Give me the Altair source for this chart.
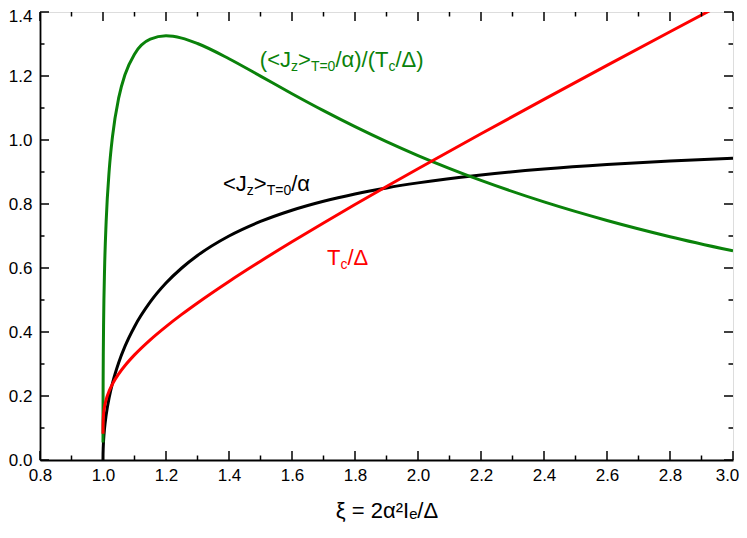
import altair as alt
import pandas as pd

# ---------------- data ----------------
xi = [1.00001, 1.0001, 1.0005, 1.001, 1.002, 1.005, 1.01, 1.02, 1.03, 1.05,
      1.07, 1.1, 1.15, 1.2, 1.25, 1.3, 1.4, 1.5, 1.6, 1.7, 1.8, 1.9, 2.0,
      2.2, 2.4, 2.6, 2.8, 3.0]

jz_x = [1.0, 1.00001, 1.0001, 1.0005, 1.001, 1.002, 1.005, 1.01, 1.02, 1.03, 1.05,
        1.07, 1.1, 1.15, 1.2, 1.25, 1.3, 1.4, 1.5, 1.6, 1.7, 1.8, 1.9, 2.0,
        2.2, 2.4, 2.6, 2.8, 3.0]
jz = [0.0, 0.0045, 0.0141, 0.0316, 0.0447, 0.0632, 0.0996, 0.1404, 0.1971, 0.2396,
      0.3049, 0.3558, 0.4166, 0.4938, 0.5528, 0.6000, 0.6390, 0.6999, 0.7454,
      0.7806, 0.8087, 0.8315, 0.8503, 0.8660, 0.8907, 0.9091, 0.9231, 0.9341,
      0.9428]

tc = [0.0819, 0.1010, 0.1206, 0.1316, 0.1447, 0.1668, 0.1886, 0.2167, 0.2373,
      0.2693, 0.2953, 0.3285, 0.3756, 0.4170, 0.4551, 0.4909, 0.5581, 0.6213,
      0.6820, 0.7408, 0.7982, 0.8546, 0.9102, 1.0195, 1.1270, 1.2332, 1.3383,
      1.4427]

ratio = [0.0546, 0.1400, 0.2622, 0.3397, 0.4363, 0.5972, 0.7444, 0.9094, 1.0098,
         1.1323, 1.2049, 1.2683, 1.3149, 1.3255, 1.3183, 1.3015, 1.2540, 1.1996,
         1.1446, 1.0917, 1.0417, 0.9949, 0.9514, 0.8737, 0.8066, 0.7486, 0.6979,
         0.6535]

x_major = [0.8, 1.0, 1.2, 1.4, 1.6, 1.8, 2.0, 2.2, 2.4, 2.6, 2.8, 3.0]
x_minor = [0.9, 1.1, 1.3, 1.5, 1.7, 1.9, 2.1, 2.3, 2.5, 2.7, 2.9]
y_major = [0.0, 0.2, 0.4, 0.6, 0.8, 1.0, 1.2, 1.4]
y_minor = [0.1, 0.3, 0.5, 0.7, 0.9, 1.1, 1.3]

x_title = "ξ = 2α²Iₑ/Δ"

# label pieces: (text, is_subscript)
green_label = [("(<J", False), ("z", True), (">", False), ("T=0", True),
               ("/α)/(T", False), ("c", True), ("/Δ)", False)]
black_label = [("<J", False), ("z", True), (">", False), ("T=0", True), ("/α", False)]
red_label = [("T", False), ("c", True), ("/Δ", False)]
green_anchor = (1.498, 1.229)
black_anchor = (1.381, 0.841)
red_anchor = (1.711, 0.609)

# ---------------- styling ----------------
W, H = 693, 448
FONT = "Liberation Sans"
GREEN = "#0a820a"
RED = "#ff0000"
BLACK = "#000000"
MAIN, SUB = 22, 14
MAJ, MIN = 9, 4.5

XS = alt.Scale(domain=[0.8, 3.0], nice=False, zero=False)
YS = alt.Scale(domain=[0.0, 1.4], nice=False, zero=False)
XAX = alt.Axis(values=x_major, format=".1f", ticks=False, grid=False,
               labelFontSize=17, labelFont=FONT, labelColor="black",
               labelPadding=7, labelFlush=False, labelOverlap=False,
               labelOffset={"condition": {"test": "datum.value > 2.95", "value": -6},
                            "value": 0},
               domainColor="black", domainWidth=1.8,
               title=x_title, titleFont=FONT, titleFontSize=22,
               titleFontWeight="normal", titleColor="black", titlePadding=17)
YAX = alt.Axis(values=y_major, format=".1f", ticks=False, grid=False,
               labelFontSize=17, labelFont=FONT, labelColor="black",
               labelPadding=8, labelFlush=False, labelOverlap=False,
               labelOffset={"condition": {"test": "datum.value > 1.35", "value": 4},
                            "value": 0},
               domainColor="black", domainWidth=1.8, title=None)


def xe(f):
    return alt.X(f, type="quantitative", scale=XS, axis=XAX, title=x_title)


def ye(f):
    return alt.Y(f, type="quantitative", scale=YS, axis=YAX, title=None)


def series(xs, ys, color):
    df = pd.DataFrame({"x": xs, "y": ys})
    return alt.Chart(df).mark_line(color=color, strokeWidth=3, clip=True,
                                   interpolate="monotone").encode(x=xe("x"), y=ye("y"))


layers = [
    series(jz_x, jz, BLACK),
    series(xi, ratio, GREEN),
    series(xi, tc, RED),
]

# inward ticks on all four sides
for vals, ln in ((x_major, MAJ), (x_minor, MIN)):
    d = pd.DataFrame({"t": vals})
    layers.append(alt.Chart(d).mark_rule(color="black", strokeWidth=1.5).encode(
        x=xe("t"), y=alt.value(H), y2=alt.value(H - ln)))
    layers.append(alt.Chart(d).mark_rule(color="black", strokeWidth=1.5).encode(
        x=xe("t"), y=alt.value(0), y2=alt.value(ln)))
for vals, ln in ((y_major, MAJ), (y_minor, MIN)):
    d = pd.DataFrame({"t": vals})
    layers.append(alt.Chart(d).mark_rule(color="black", strokeWidth=1.5).encode(
        y=ye("t"), x=alt.value(0), x2=alt.value(ln)))
    layers.append(alt.Chart(d).mark_rule(color="black", strokeWidth=1.5).encode(
        y=ye("t"), x=alt.value(W), x2=alt.value(W - ln)))

# approximate advance widths (em) for placing sub-scripted label pieces
ADV = {"(": 0.333, ")": 0.333, "<": 0.584, ">": 0.584, "J": 0.5, "z": 0.5,
       "T": 0.611, "=": 0.584, "0": 0.556, "/": 0.278, "c": 0.5, "α": 0.58,
       "Δ": 0.668}


def label_layers(anchor, pieces, color):
    out = []
    off = 0.0
    d = pd.DataFrame({"x": [anchor[0]], "y": [anchor[1]]})
    for txt, sub in pieces:
        fs = SUB if sub else MAIN
        out.append(alt.Chart(d).mark_text(
            text=txt, align="left", baseline="alphabetic", dx=off,
            dy=4 if sub else 0, fontSize=fs, font=FONT, color=color
        ).encode(x=xe("x"), y=ye("y")))
        off += sum(ADV.get(c, 0.55) for c in txt) * fs
    return out


layers += label_layers(green_anchor, green_label, GREEN)
layers += label_layers(black_anchor, black_label, BLACK)
layers += label_layers(red_anchor, red_label, RED)

chart = alt.layer(*layers).properties(
    width=W, height=H,
    padding={"left": 32, "top": 4, "right": 6, "bottom": 70},
    autosize=alt.AutoSizeParams(type="none"),
).configure_view(stroke="black", strokeWidth=1.8).configure(background="white")

chart.save("out.html", embed_options={"renderer": "svg", "actions": False})
